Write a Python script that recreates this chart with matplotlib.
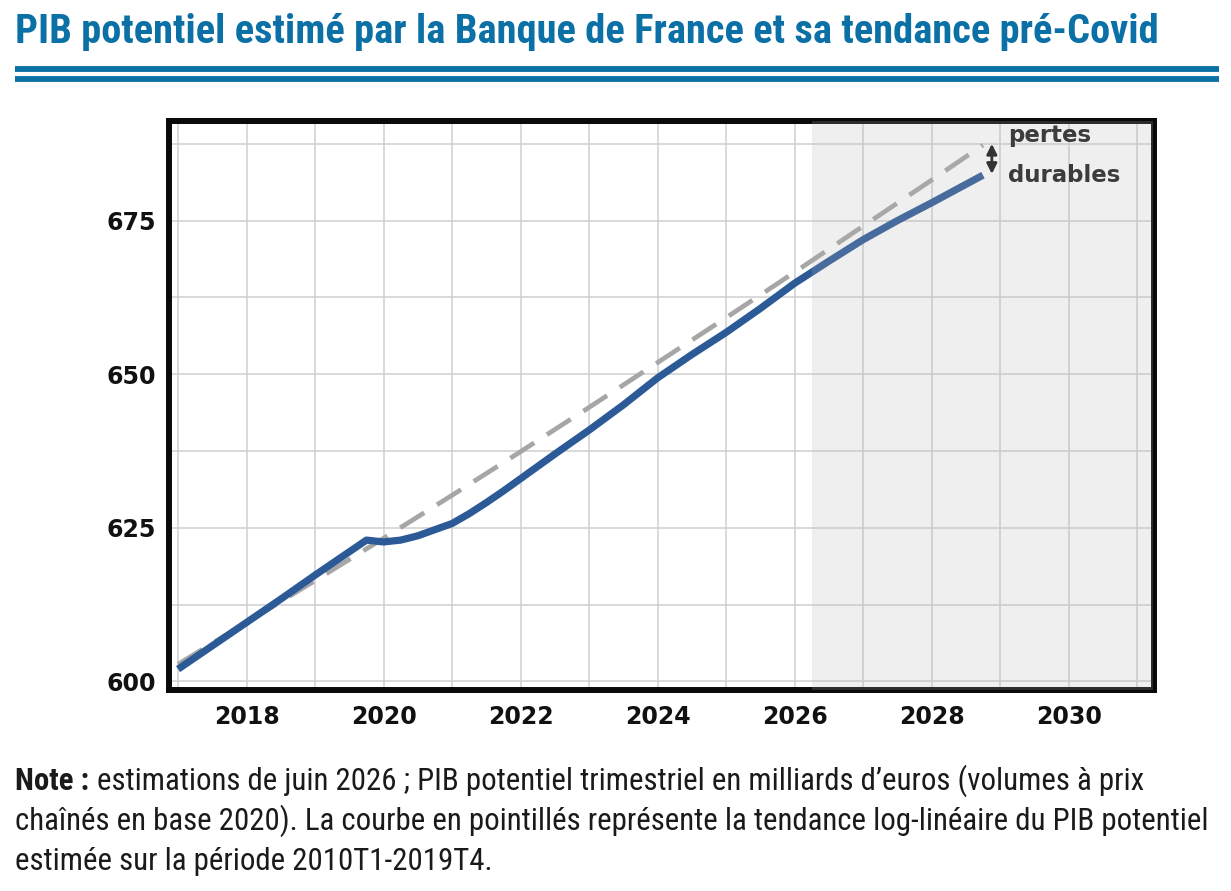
import matplotlib
matplotlib.use('Agg')
import matplotlib.pyplot as plt

# PIB potentiel (milliards d'euros)
pib_x = [2017.0, 2017.5, 2018.0, 2018.5, 2019.0, 2019.5, 2019.75, 2020.0, 2020.25,
         2020.5, 2020.75, 2021.0, 2021.25, 2021.5, 2021.75, 2022.0, 2022.5, 2023.0,
         2023.5, 2024.0, 2024.5, 2025.0, 2025.5, 2026.0, 2026.5, 2027.0, 2027.5,
         2028.0, 2028.5, 2028.75]
pib_y = [602.0, 605.8, 609.6, 613.4, 617.3, 621.1, 623.0, 622.7, 623.0,
         623.7, 624.7, 625.7, 627.3, 629.1, 631.0, 633.0, 637.0, 640.9,
         645.0, 649.4, 653.2, 656.8, 660.7, 664.8, 668.4, 671.9, 675.0,
         677.9, 680.9, 682.4]

# tendance log-linéaire pré-Covid
trend_x = [2017, 2018, 2019, 2020, 2021, 2022, 2023, 2024, 2025, 2026, 2027, 2028, 2028.75]
trend_y = [602.8, 609.6, 616.4, 623.3, 630.3, 637.4, 644.6, 651.9, 659.2, 666.6, 674.1, 681.6, 687.3]

proj_start = 2026.25
x_ticks = [2018, 2020, 2022, 2024, 2026, 2028, 2030]
y_ticks = [600, 625, 650, 675]

title = "PIB potentiel estimé par la Banque de France et sa tendance pré-Covid"
note_bold = "Note :"
note_1 = "estimations de juin 2026 ; PIB potentiel trimestriel en milliards d’euros (volumes à prix"
note_2 = "chaînés en base 2020). La courbe en pointillés représente la tendance log-linéaire du PIB potentiel"
note_3 = "estimée sur la période 2010T1-2019T4."

blue = '#0b70a6'
narrow = ['Roboto Condensed', 'Roboto', 'DejaVu Sans']

fig = plt.figure(figsize=(12.31, 8.91), dpi=100)
W, H = 1231, 891
renderer = fig.canvas.get_renderer()


def fit_size(s, width_px, **kw):
    t = fig.text(0, 0, s, fontsize=20, **kw)
    w = t.get_window_extent(renderer).width
    t.remove()
    return 20 * width_px / w


# titre + filets
ts = fit_size(title, 1140, family=narrow, fontweight='bold')
fig.text(15 / W, 1 - 43 / H, title, fontsize=ts, family=narrow, fontweight='bold',
         color=blue, va='baseline', ha='left')
for yy in (69, 79):
    fig.add_artist(plt.Line2D([15 / W, 1219 / W], [1 - yy / H, 1 - yy / H],
                              color=blue, lw=4.2, solid_capstyle='butt'))

ax = fig.add_axes([168.5 / W, 1 - 690 / H, 985 / W, 569.5 / H])
ax.set_xlim(2016.86, 2031.24)
ax.set_ylim(598.6, 691.3)

ax.set_xticks(x_ticks)
ax.set_xticks(range(2017, 2032), minor=True)
ax.set_yticks(y_ticks)
ax.set_yticks([600 + 12.5 * i for i in range(8)], minor=True)
ax.grid(which='both', color='#cfcfcf', lw=1.1, zorder=0)
ax.set_axisbelow(True)
ax.tick_params(which='both', length=0)
ax.tick_params(axis='y', pad=9)
ax.tick_params(axis='x', pad=11)
for lab in ax.get_xticklabels() + ax.get_yticklabels():
    lab.set_fontweight('bold')
    lab.set_fontsize(17)
    lab.set_color('#111111')
for sp in ax.spines.values():
    sp.set_linewidth(4.3)
    sp.set_color('#0a0a0a')

ax.plot(trend_x, trend_y, color='#a6a6a6', lw=3.4, dashes=(6, 3.2), zorder=2)
ax.plot(pib_x, pib_y, color='#2c5a97', lw=5.2, solid_capstyle='butt', zorder=3)
ax.axvspan(proj_start, 2031.24, color='#b3b3b3', alpha=0.2, lw=0, zorder=4)

ax.annotate('', xy=(2028.88, 682.6), xytext=(2028.88, 687.5),
            arrowprops=dict(arrowstyle='<|-|>', color='#333333', lw=2.0,
                            mutation_scale=15, shrinkA=0, shrinkB=0), zorder=5)
ax.text(2029.12, 688.8, 'pertes', fontsize=16.5, fontweight='bold', color='#3c3c3c',
        va='center', ha='left', zorder=5)
ax.text(2029.12, 682.3, 'durables', fontsize=16.5, fontweight='bold', color='#3c3c3c',
        va='center', ha='left', zorder=5)

# note
ns = fit_size(note_2, 1190, family=narrow)
tb = fig.text(15 / W, 1 - 790 / H, note_bold, fontsize=ns, family=narrow,
              fontweight='bold', color='#1a1a1a', va='baseline')
bx = tb.get_window_extent(renderer).x1
sp_w = ns * 0.25 * 100 / 72
fig.text((bx + sp_w) / W, 1 - 790 / H, note_1, fontsize=ns, family=narrow,
         color='#1a1a1a', va='baseline')
fig.text(15 / W, 1 - 830 / H, note_2, fontsize=ns, family=narrow, color='#1a1a1a', va='baseline')
fig.text(15 / W, 1 - 870 / H, note_3, fontsize=ns, family=narrow, color='#1a1a1a', va='baseline')

fig.savefig('out.png', dpi=100)
